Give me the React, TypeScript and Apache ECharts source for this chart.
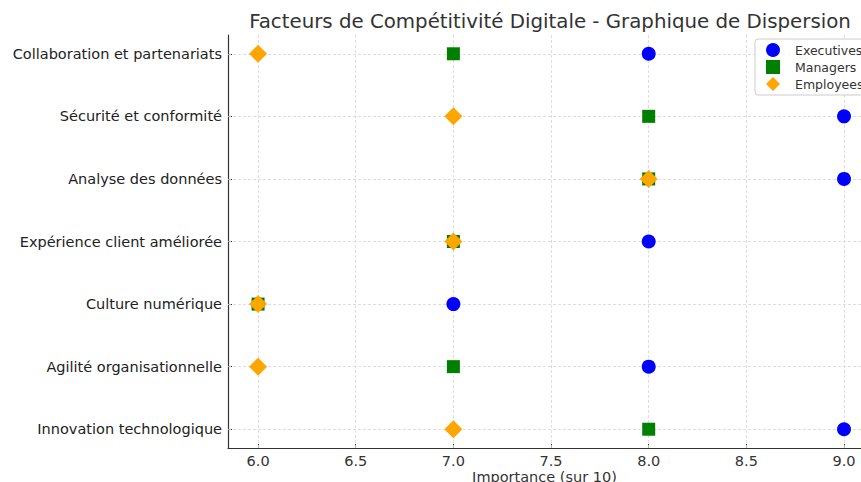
import React, { useEffect, useRef } from "react";
import * as echarts from "echarts";

const categories = [
  "Innovation technologique",
  "Agilité organisationnelle",
  "Culture numérique",
  "Expérience client améliorée",
  "Analyse des données",
  "Sécurité et conformité",
  "Collaboration et partenariats",
];
const executives = [9, 8, 7, 8, 9, 9, 8];
const managers = [8, 7, 6, 7, 8, 8, 7];
const employees = [7, 6, 6, 7, 8, 7, 6];
const xTicks = [6.0, 6.5, 7.0, 7.5, 8.0, 8.5, 9.0];
const titleText = "Facteurs de Compétitivité Digitale - Graphique de Dispersion";
const xName = "Importance (sur 10)";

const FONT = "'DejaVu Sans', sans-serif";

export default function App() {
  const ref = useRef<HTMLDivElement>(null);
  useEffect(() => {
    document.body.style.margin = "0";
    const chart = echarts.init(ref.current!, null, { renderer: "svg" });
    const yIdx = categories.map((_, i) => i);
    const toPts = (arr: number[]) => arr.map((v, i) => [v, i]);
    chart.setOption({
      animation: false,
      backgroundColor: "#ffffff",
      textStyle: { fontFamily: FONT },
      grid: {
        left: 228,
        top: 35,
        right: 0,
        bottom: 34,
        containLabel: false,
        outerBoundsMode: "none",
      },
      graphic: [
        {
          type: "text",
          x: 550,
          y: 21,
          style: {
            text: titleText,
            fill: "#333",
            font: `19.8px ${FONT}`,
            textAlign: "center",
            textVerticalAlign: "middle",
          },
        },
      ],
      legend: {
        orient: "vertical",
        left: 755,
        top: 39,
        data: [
          { name: "Executives", icon: "circle" },
          { name: "Managers", icon: "rect" },
          { name: "Employees", icon: "diamond" },
        ],
        itemWidth: 14,
        itemHeight: 14,
        itemGap: 3,
        padding: [4, 8, 4, 11],
        borderColor: "#cccccc",
        borderWidth: 1,
        borderRadius: 3,
        backgroundColor: "rgba(255,255,255,0.8)",
        textStyle: { fontFamily: FONT, fontSize: 12.5, color: "#333", padding: [0, 0, 0, 10] },
        selectedMode: false,
      },
      xAxis: {
        type: "value",
        min: 5.846,
        max: 9.087,
        name: xName,
        nameLocation: "middle",
        nameGap: 21,
        nameMoveOverlap: false,
        nameTextStyle: { fontFamily: FONT, fontSize: 14.5, color: "#333" },
        axisLine: { show: true, onZero: false, lineStyle: { color: "#333", width: 1.2 } },
        axisTick: { show: true, inside: true, length: 4, customValues: xTicks, lineStyle: { color: "#333" } },
        axisLabel: {
          customValues: xTicks,
          formatter: (v: number) => v.toFixed(1),
          fontFamily: FONT,
          fontSize: 14.5,
          color: "#333",
          margin: 5,
        },
        splitLine: { show: false },
      },
      yAxis: {
        type: "value",
        min: -0.3,
        max: 6.3,
        axisLine: { show: true, onZero: false, lineStyle: { color: "#333", width: 1.2 } },
        axisTick: { show: true, inside: true, length: 4, customValues: yIdx, lineStyle: { color: "#333" } },
        axisLabel: {
          customValues: yIdx,
          formatter: (v: number) => categories[Math.round(v)] ?? "",
          fontFamily: FONT,
          fontSize: 14.5,
          color: "#222",
          margin: 6,
        },
        splitLine: { show: false },
      },
      series: [
        {
          name: "grid",
          type: "scatter",
          data: [],
          z: 1,
          silent: true,
          markLine: {
            silent: true,
            z: 1,
            symbol: "none",
            animation: false,
            label: { show: false },
            emphasis: { disabled: true },
            lineStyle: { type: [3, 2], color: "#d6d6d6", width: 0.8 },
            data: [
              ...xTicks.map((v) => ({ xAxis: v })),
              ...yIdx.map((v) => ({ yAxis: v })),
            ],
          },
        },
        {
          name: "Executives",
          type: "scatter",
          symbol: "circle",
          symbolSize: 14,
          z: 3,
          itemStyle: { color: "#0000ff", opacity: 1 },
          data: toPts(executives),
        },
        {
          name: "Managers",
          type: "scatter",
          symbol: "rect",
          symbolSize: 13,
          z: 4,
          itemStyle: { color: "#008000", opacity: 1 },
          data: toPts(managers),
        },
        {
          name: "Employees",
          type: "scatter",
          symbol: "diamond",
          symbolSize: 18,
          z: 5,
          itemStyle: { color: "#ffa500", opacity: 1 },
          data: toPts(employees),
        },
      ],
    });
    return () => chart.dispose();
  }, []);
  return <div ref={ref} style={{ width: 861, height: 482 }} />;
}
